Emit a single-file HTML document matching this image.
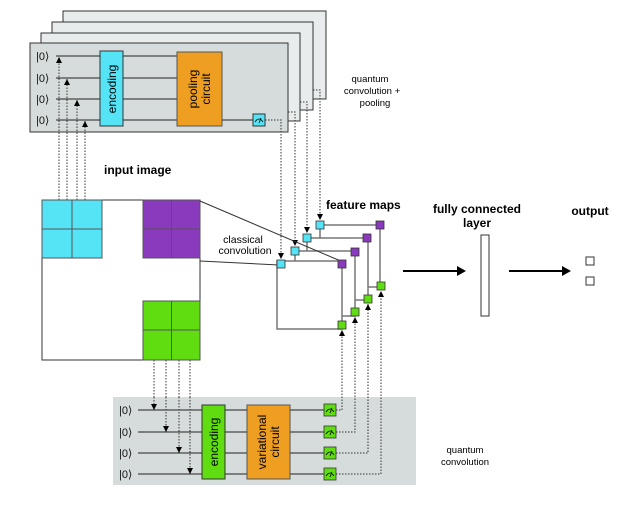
<!DOCTYPE html>
<html><head><meta charset="utf-8"><style>
html,body{margin:0;padding:0;background:#fff}
svg{display:block}
text{font-family:"Liberation Sans",sans-serif}
</style></head><body>
<svg width="623" height="505" viewBox="0 0 623 505" xmlns="http://www.w3.org/2000/svg">
<defs>
<marker id="ah" viewBox="0 0 10 10" refX="10" refY="5" markerWidth="6" markerHeight="6" markerUnits="userSpaceOnUse" orient="auto"><path d="M0,0L10,5L0,10z" fill="#000"/></marker>
</defs>
<!-- top panels -->
<rect x="63" y="11" width="263" height="88" fill="#e9ecec" stroke="#333" stroke-width="1"/>
<rect x="52" y="22" width="261" height="88" fill="#e9ecec" stroke="#333" stroke-width="1"/>
<rect x="41" y="33" width="259" height="88" fill="#e9ecec" stroke="#333" stroke-width="1"/>
<rect x="30" y="43" width="258" height="89" fill="#d6dcdb" stroke="#333" stroke-width="1"/>
<g font-size="11" fill="#111">
<text x="36" y="60">|0⟩</text><text x="36" y="82">|0⟩</text><text x="36" y="103">|0⟩</text><text x="36" y="124">|0⟩</text>
</g>
<g stroke="#222" stroke-width="1">
<line x1="56" y1="56" x2="178" y2="56"/><line x1="56" y1="78" x2="178" y2="78"/>
<line x1="56" y1="99" x2="178" y2="99"/><line x1="56" y1="120" x2="254" y2="120"/>
</g>
<rect x="100" y="51" width="23" height="75" fill="#55e3f6" stroke="#333"/>
<text transform="translate(116,89) rotate(-90)" font-size="12" text-anchor="middle">encoding</text>
<rect x="177" y="52" width="45" height="74" fill="#ee9f22" stroke="#555"/>
<text transform="translate(197,89) rotate(-90)" font-size="12" text-anchor="middle">pooling</text>
<text transform="translate(210,89) rotate(-90)" font-size="12" text-anchor="middle">circuit</text>
<rect x="253" y="114" width="12" height="12" fill="#55e3f6" stroke="#333"/>
<path d="M255,122 q4,-6 8,0 M259,123 l2,-5" stroke="#000" fill="none" stroke-width="0.8"/>
<!-- dotted -->
<g stroke="#333" stroke-width="1" stroke-dasharray="1.5,1.5" fill="none">
<polyline points="265,120 281,120 281,259" marker-end="url(#ah)"/>
<polyline points="288,112 295,112 295,246" marker-end="url(#ah)"/>
<polyline points="300,102 307,102 307,233" marker-end="url(#ah)"/>
<polyline points="313,90 320,90 320,220" marker-end="url(#ah)"/>
<line x1="59" y1="200" x2="59" y2="57" marker-end="url(#ah)"/>
<line x1="67" y1="200" x2="67" y2="79" marker-end="url(#ah)"/>
<line x1="77" y1="200" x2="77" y2="100" marker-end="url(#ah)"/>
<line x1="85" y1="200" x2="85" y2="121" marker-end="url(#ah)"/>
<line x1="154" y1="360" x2="154" y2="410" marker-end="url(#ah)"/>
<line x1="166" y1="360" x2="166" y2="432" marker-end="url(#ah)"/>
<line x1="179" y1="360" x2="179" y2="453" marker-end="url(#ah)"/>
<line x1="190" y1="360" x2="190" y2="474" marker-end="url(#ah)"/>
<polyline points="336,410 342,410 342,330" marker-end="url(#ah)"/>
<polyline points="336,432 355,432 355,317" marker-end="url(#ah)"/>
<polyline points="336,453 368,453 368,304" marker-end="url(#ah)"/>
<polyline points="336,474 381,474 381,291" marker-end="url(#ah)"/>
</g>
<text x="370" y="82" font-size="9.5" text-anchor="middle">quantum</text>
<text x="372" y="94" font-size="9.5" text-anchor="middle">convolution +</text>
<text x="375" y="106" font-size="9.5" text-anchor="middle">pooling</text>
<text x="104" y="174" font-size="12" font-weight="bold">input image</text>
<!-- image -->
<rect x="42" y="200" width="158" height="160" fill="#fff" stroke="#333"/>
<rect x="42" y="200" width="60" height="58" fill="#55e3f6" stroke="#555"/>
<line x1="72" y1="200" x2="72" y2="258" stroke="#555"/><line x1="42" y1="229" x2="102" y2="229" stroke="#555"/>
<rect x="143" y="200" width="57" height="58" fill="#8a3bbd" stroke="#555"/>
<line x1="171.5" y1="200" x2="171.5" y2="258" stroke="#555"/><line x1="143" y1="229" x2="200" y2="229" stroke="#555"/>
<rect x="143" y="301" width="57" height="59" fill="#5fdd10" stroke="#555"/>
<line x1="171.5" y1="301" x2="171.5" y2="360" stroke="#555"/><line x1="143" y1="330" x2="200" y2="330" stroke="#555"/>
<!-- feature maps -->
<g stroke="#777" stroke-width="1.5" fill="#fff">
<rect x="320" y="225" width="60" height="62"/>
<rect x="307" y="238" width="61" height="62"/>
<rect x="295" y="251" width="60" height="65"/>
</g>
<line x1="200" y1="201" x2="343" y2="262" stroke="#333"/>
<line x1="200" y1="261" x2="279" y2="265" stroke="#333"/>
<rect x="277" y="261" width="65" height="68" fill="#fff" stroke="#777" stroke-width="1.5"/>
<g stroke="#333" stroke-width="0.8">
<rect x="316" y="221" width="8" height="8" fill="#55e3f6"/><rect x="376" y="221" width="8" height="8" fill="#8a3bbd"/><rect x="377" y="282" width="8" height="8" fill="#5fdd10"/>
<rect x="303" y="234" width="8" height="8" fill="#55e3f6"/><rect x="363" y="234" width="8" height="8" fill="#8a3bbd"/><rect x="364" y="295" width="8" height="8" fill="#5fdd10"/>
<rect x="291" y="247" width="8" height="8" fill="#55e3f6"/><rect x="351" y="248" width="8" height="8" fill="#8a3bbd"/><rect x="351" y="308" width="8" height="8" fill="#5fdd10"/>
<rect x="277" y="260" width="8" height="8" fill="#55e3f6"/><rect x="338" y="260" width="8" height="8" fill="#8a3bbd"/><rect x="338" y="321" width="8" height="8" fill="#5fdd10"/>
</g>
<text x="326" y="209" font-size="12" font-weight="bold">feature maps</text>
<text x="243" y="243" font-size="10.5" text-anchor="middle">classical</text>
<text x="245" y="254" font-size="10.5" text-anchor="middle">convolution</text>
<text x="477" y="213" font-size="12" font-weight="bold" text-anchor="middle">fully connected</text>
<text x="477" y="227" font-size="12" font-weight="bold" text-anchor="middle">layer</text>
<rect x="481" y="235" width="8" height="81" fill="#fff" stroke="#333"/>
<text x="590" y="215" font-size="12" font-weight="bold" text-anchor="middle">output</text>
<rect x="586" y="257" width="8" height="8" fill="#fff" stroke="#333"/>
<rect x="586" y="277" width="8" height="8" fill="#fff" stroke="#333"/>
<line x1="403" y1="271" x2="458" y2="271" stroke="#000" stroke-width="2"/><path d="M457,266 L466,271 L457,276z"/>
<line x1="509" y1="271" x2="563" y2="271" stroke="#000" stroke-width="2"/><path d="M562,266 L571,271 L562,276z"/>
<!-- bottom panel -->
<rect x="113" y="397" width="303" height="88" fill="#d6dcdb"/>
<g font-size="11" fill="#111">
<text x="119" y="414">|0⟩</text><text x="119" y="436">|0⟩</text><text x="119" y="457">|0⟩</text><text x="119" y="478">|0⟩</text>
</g>
<g stroke="#222" stroke-width="1">
<line x1="138" y1="410" x2="325" y2="410"/><line x1="138" y1="432" x2="325" y2="432"/>
<line x1="138" y1="453" x2="325" y2="453"/><line x1="138" y1="474" x2="325" y2="474"/>
</g>
<g stroke="#333" stroke-dasharray="1.5,1.5" fill="none"><line x1="154" y1="397" x2="154" y2="410" marker-end="url(#ah)"/><line x1="166" y1="397" x2="166" y2="432" marker-end="url(#ah)"/><line x1="179" y1="397" x2="179" y2="453" marker-end="url(#ah)"/><line x1="190" y1="397" x2="190" y2="474" marker-end="url(#ah)"/></g>
<rect x="202" y="405" width="23" height="74" fill="#5fdd10" stroke="#333"/>
<text transform="translate(218,442) rotate(-90)" font-size="12" text-anchor="middle">encoding</text>
<rect x="247" y="405" width="43" height="74" fill="#ee9f22" stroke="#555"/>
<text transform="translate(266,442) rotate(-90)" font-size="12" text-anchor="middle">variational</text>
<text transform="translate(279,442) rotate(-90)" font-size="12" text-anchor="middle">circuit</text>
<g stroke="#333" stroke-width="0.8" fill="#5fdd10">
<rect x="324" y="404" width="12" height="12"/><rect x="324" y="426" width="12" height="12"/><rect x="324" y="447" width="12" height="12"/><rect x="324" y="468" width="12" height="12"/>
</g>
<g stroke="#000" fill="none" stroke-width="0.8">
<path d="M326,412 q4,-6 8,0 M330,413 l2,-5"/><path d="M326,434 q4,-6 8,0 M330,435 l2,-5"/><path d="M326,455 q4,-6 8,0 M330,456 l2,-5"/><path d="M326,476 q4,-6 8,0 M330,477 l2,-5"/>
</g>
<g stroke="#333" stroke-dasharray="1.5,1.5" fill="none">
<polyline points="336,410 342,410 342,397"/><polyline points="336,432 355,432 355,397"/><polyline points="336,453 368,453 368,397"/><polyline points="336,474 381,474 381,397"/>
</g>
<text x="465" y="453" font-size="9.5" text-anchor="middle">quantum</text>
<text x="465" y="465" font-size="9.5" text-anchor="middle">convolution</text>
</svg>
</body></html>
